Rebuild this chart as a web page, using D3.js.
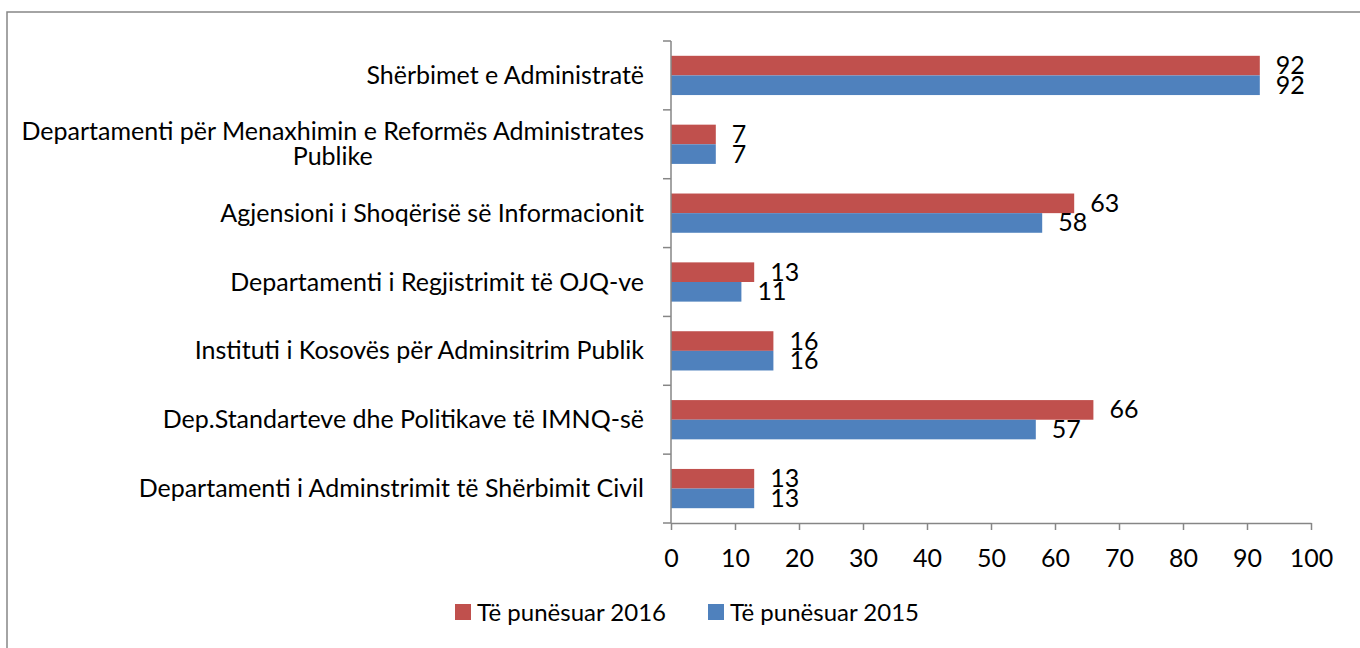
<!DOCTYPE html>
<html>
<head>
<meta charset="UTF-8">
<title></title>
<script src="https://d3js.org/d3.v7.min.js"></script>
<style>
  body { margin: 0; background: #fff; }
  svg text { font-family: Lato, "Open Sans", sans-serif; fill: #000; }
</style>
</head>
<body>
<svg id="chart" width="1360" height="648"></svg>
<script>
var categories = [
  ["Shërbimet e Administratë"],
  ["Departamenti për Menaxhimin e Reformës Administrates", "Publike"],
  ["Agjensioni i Shoqërisë së Informacionit"],
  ["Departamenti i Regjistrimit të OJQ-ve"],
  ["Instituti i Kosovës për Adminsitrim Publik"],
  ["Dep.Standarteve dhe Politikave të IMNQ-së"],
  ["Departamenti i Adminstrimit të Shërbimit Civil"]
];
var series = ["Të punësuar 2016", "Të punësuar 2015"];
var v2016 = [92, 7, 63, 13, 16, 66, 13];
var v2015 = [92, 7, 58, 11, 16, 57, 13];
var xTicks = [0, 10, 20, 30, 40, 50, 60, 70, 80, 90, 100];
var colors = ["#C0504D", "#4F81BD"];

var svg = d3.select('#chart');
var fs = 25;

// outer frame (runs past the right/bottom edge like the source)
svg.append('rect')
   .attr('x', 7).attr('y', 12)
   .attr('width', 1400).attr('height', 700)
   .attr('fill', 'none')
   .attr('stroke', '#868686')
   .attr('stroke-width', 1.5);

var x = d3.scaleLinear().domain([0, 100]).range([671, 1311]);
var y = d3.scaleBand()
          .domain(d3.range(categories.length))
          .range([41, 523])
          .paddingInner(0.43)
          .paddingOuter(0.215);
var ys = d3.scaleBand().domain([0, 1]).range([0, y.bandwidth()]);

var data = [];
categories.forEach(function(c, i) {
  data.push({i: i, s: 0, v: v2016[i]});
  data.push({i: i, s: 1, v: v2015[i]});
});

// bars
svg.append('g').selectAll('rect')
   .data(data).enter().append('rect')
   .attr('x', x(0))
   .attr('y', function(d) { return y(d.i) + ys(d.s); })
   .attr('width', function(d) { return x(d.v) - x(0); })
   .attr('height', ys.bandwidth())
   .attr('fill', function(d) { return colors[d.s]; });

// value labels
svg.append('g').selectAll('text')
   .data(data).enter().append('text')
   .attr('x', function(d) { return x(d.v) + 16; })
   .attr('y', function(d) { return y(d.i) + ys(d.s) + ys.bandwidth() / 2; })
   .attr('dy', '0.34em')
   .style('font-size', fs + 'px')
   .text(function(d) { return d.v; });

// y axis line and category boundary ticks
var axisColor = '#868686';
var g = svg.append('g').attr('stroke', axisColor).attr('stroke-width', 1.5);
var yr = y.range();
g.append('line').attr('x1', x(0)).attr('x2', x(0)).attr('y1', yr[0]).attr('y2', yr[1]);
g.selectAll('.yt').data(d3.range(categories.length + 1)).enter().append('line')
   .attr('x1', x(0) - 8).attr('x2', x(0))
   .attr('y1', function(i) { return yr[0] + i * y.step(); })
   .attr('y2', function(i) { return yr[0] + i * y.step(); });

// x axis
var xAxis = svg.append('g')
   .attr('transform', 'translate(0,' + yr[1] + ')')
   .call(d3.axisBottom(x).tickValues(xTicks).tickSize(7).tickPadding(19).tickSizeOuter(0));
xAxis.selectAll('path, line').attr('stroke', axisColor).attr('stroke-width', 1.5);
xAxis.selectAll('text').style('font-size', fs + 'px')
     .style('font-family', 'Lato, "Open Sans", sans-serif').attr('fill', '#000');

// category labels
var labelRight = 644;
var lg = svg.append('g');
categories.forEach(function(lines, i) {
  var cy = y(i) + y.bandwidth() / 2;
  var lh = 25;
  var t = lg.append('text').style('font-size', fs + 'px');
  var spans = lines.map(function(s, k) {
    return t.append('tspan').text(s)
            .attr('y', cy + (k - (lines.length - 1) / 2) * lh)
            .attr('dy', '0.34em');
  });
  var w = d3.max(spans, function(s) { return s.node().getComputedTextLength(); });
  spans.forEach(function(s) {
    s.attr('x', labelRight - w / 2).attr('text-anchor', 'middle');
  });
});

// legend
var legend = svg.append('g');
var lx = [455, 708];
series.forEach(function(s, k) {
  legend.append('rect')
        .attr('x', lx[k]).attr('y', 604)
        .attr('width', 16).attr('height', 16)
        .attr('fill', colors[k]);
  legend.append('text')
        .attr('x', lx[k] + 22).attr('y', 621)
        .style('font-size', '24px')
        .text(s);
});
</script>
</body>
</html>
